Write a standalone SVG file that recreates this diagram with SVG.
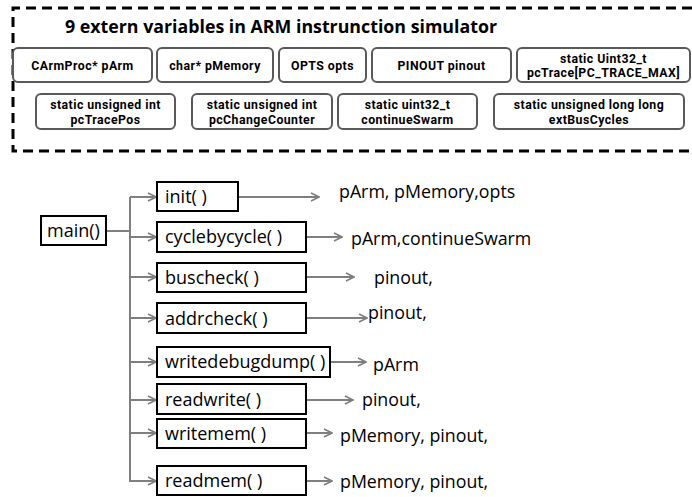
<svg xmlns="http://www.w3.org/2000/svg" width="692" height="497" viewBox="0 0 692 497">
  <defs>
    <style>
      .frame { fill: none; stroke: #000; stroke-width: 3; stroke-dasharray: 10 6; }
      .title { font-family: "Open Sans", "Noto Sans", sans-serif; font-weight: 700; font-size: 18.5px; fill: #000; }
      .var rect { fill: #fff; stroke: #595959; stroke-width: 2; }
      .var text { font-family: Roboto, "Open Sans", sans-serif; font-weight: 700; font-size: 12.3px; letter-spacing: 0.45px; fill: #000; text-anchor: middle; }
      .fn rect { fill: #fff; stroke: #000; stroke-width: 2; }
      .fn text { font-family: "Open Sans", "Noto Sans", sans-serif; font-size: 18px; fill: #000; }
      .arg { font-family: "Open Sans", "Noto Sans", sans-serif; font-size: 17.8px; fill: #000; }
      .wire { fill: none; stroke: #7f7f7f; stroke-width: 2; }
      .arrow { fill: none; stroke: #7f7f7f; stroke-width: 2; marker-end: url(#chev); }
    </style>
    <marker id="chev" viewBox="0 0 10 10" refX="9" refY="5" markerWidth="5" markerHeight="5" markerUnits="strokeWidth" orient="auto">
      <path d="M1,1 L9,5 L1,9" fill="none" stroke="#7f7f7f" stroke-width="1.6"/>
    </marker>
  </defs>

  <!-- dashed frame around the extern variables -->
  <path class="frame" d="M692,8 H13 V151 H692"/>
  <text class="title" x="65" y="33" textLength="432" lengthAdjust="spacingAndGlyphs">9 extern variables in ARM instrunction simulator</text>

  <!-- first row of variables -->
  <g id="v-parm" class="var">
    <rect x="13" y="48" width="139" height="34" rx="5"/>
    <text x="82.5" y="69.5">CArmProc* pArm</text>
  </g>
  <g id="v-pmemory" class="var">
    <rect x="157" y="48" width="116" height="34" rx="5"/>
    <text x="215" y="69.5">char* pMemory</text>
  </g>
  <g id="v-opts" class="var">
    <rect x="279" y="48" width="87" height="34" rx="5"/>
    <text x="322.5" y="69.5">OPTS opts</text>
  </g>
  <g id="v-pinout" class="var">
    <rect x="372" y="48" width="139" height="34" rx="5"/>
    <text x="441.5" y="69.5">PINOUT pinout</text>
  </g>
  <g id="v-pctrace" class="var">
    <rect x="517" y="48" width="173" height="34" rx="5"/>
    <text y="62.5"><tspan x="603.5">static Uint32_t</tspan><tspan x="603.5" dy="14.5">pcTrace[PC_TRACE_MAX]</tspan></text>
  </g>

  <!-- second row of variables -->
  <g id="v-pctracepos" class="var">
    <rect x="36" y="94" width="139" height="35" rx="5"/>
    <text y="109"><tspan x="105.5">static unsigned int</tspan><tspan x="105.5" dy="14.5">pcTracePos</tspan></text>
  </g>
  <g id="v-pcchangecounter" class="var">
    <rect x="192" y="94" width="140" height="35" rx="5"/>
    <text y="109"><tspan x="262">static unsigned int</tspan><tspan x="262" dy="14.5">pcChangeCounter</tspan></text>
  </g>
  <g id="v-continueswarm" class="var">
    <rect x="338" y="94" width="139" height="35" rx="5"/>
    <text y="109"><tspan x="407.5">static uint32_t</tspan><tspan x="407.5" dy="14.5">continueSwarm</tspan></text>
  </g>
  <g id="v-extbuscycles" class="var">
    <rect x="494" y="94" width="190" height="35" rx="5"/>
    <text y="109"><tspan x="589">static unsigned long long</tspan><tspan x="589" dy="14.5">extBusCycles</tspan></text>
  </g>

  <!-- call tree connectors -->
  <g id="connectors">
    <path class="wire" d="M106,231 H130 M130,197 V482"/>
    <path class="arrow" d="M130,197 H156"/>
    <path class="arrow" d="M130,237 H156"/>
    <path class="arrow" d="M130,277 H156"/>
    <path class="arrow" d="M130,318 H156"/>
    <path class="arrow" d="M130,362 H156"/>
    <path class="arrow" d="M130,400 H156"/>
    <path class="arrow" d="M130,433 H156"/>
    <path class="arrow" d="M130,481 H156"/>

    <path class="arrow" d="M238,197 H319"/>
    <path class="arrow" d="M306,237 H342"/>
    <path class="arrow" d="M306,277 H354"/>
    <path class="arrow" d="M306,318 H367"/>
    <path class="arrow" d="M330,362 H366"/>
    <path class="arrow" d="M306,400 H353"/>
    <path class="arrow" d="M306,433 H332"/>
    <path class="arrow" d="M306,481 H332"/>
  </g>

  <!-- functions -->
  <g id="f-main" class="fn">
    <rect x="41" y="216" width="65" height="29"/>
    <text x="47" y="237">main()</text>
  </g>
  <g id="f-init" class="fn">
    <rect x="157" y="182" width="81" height="29"/>
    <text x="165" y="203">init( )</text>
  </g>
  <g id="f-cyclebycycle" class="fn">
    <rect x="157" y="222" width="149" height="30"/>
    <text x="165" y="243">cyclebycycle( )</text>
  </g>
  <g id="f-buscheck" class="fn">
    <rect x="157" y="263" width="149" height="29"/>
    <text x="165" y="284">buscheck( )</text>
  </g>
  <g id="f-addrcheck" class="fn">
    <rect x="157" y="303" width="149" height="30"/>
    <text x="165" y="325">addrcheck( )</text>
  </g>
  <g id="f-writedebugdump" class="fn">
    <rect x="157" y="347" width="173" height="30"/>
    <text x="165" y="368">writedebugdump( )</text>
  </g>
  <g id="f-readwrite" class="fn">
    <rect x="157" y="384" width="149" height="30"/>
    <text x="165" y="406">readwrite( )</text>
  </g>
  <g id="f-writemem" class="fn">
    <rect x="157" y="419" width="149" height="29"/>
    <text x="165" y="440">writemem( )</text>
  </g>
  <g id="f-readmem" class="fn">
    <rect x="157" y="466" width="149" height="29"/>
    <text x="165" y="487">readmem( )</text>
  </g>

  <!-- arguments each function touches -->
  <text class="arg" x="339" y="198">pArm, pMemory,opts</text>
  <text class="arg" x="351" y="245">pArm,continueSwarm</text>
  <text class="arg" x="374" y="284">pinout,</text>
  <text class="arg" x="368" y="319">pinout,</text>
  <text class="arg" x="373" y="371">pArm</text>
  <text class="arg" x="362" y="406">pinout,</text>
  <text class="arg" x="340" y="442">pMemory, pinout,</text>
  <text class="arg" x="340" y="488">pMemory, pinout,</text>
</svg>
